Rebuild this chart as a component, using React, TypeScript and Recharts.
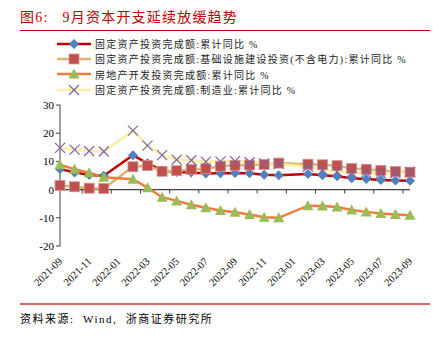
import React from 'react';
import { LineChart, Line, XAxis, YAxis, ReferenceLine } from 'recharts';

const months = [
  '2021-09', '2021-10', '2021-11', '2021-12',
  '2022-01', '2022-02', '2022-03', '2022-04', '2022-05', '2022-06', '2022-07', '2022-08', '2022-09', '2022-10', '2022-11', '2022-12',
  '2023-01', '2023-02', '2023-03', '2023-04', '2023-05', '2023-06', '2023-07', '2023-08', '2023-09',
];

// 1-2月合并公布，1月为空
const fixedAsset = [7.3, 6.1, 5.2, 4.9, null, 12.2, 9.3, 6.8, 6.2, 6.1, 5.7, 5.8, 5.9, 5.8, 5.3, 5.1, null, 5.5, 5.1, 4.7, 4.0, 3.8, 3.4, 3.2, 3.1];
const infra = [1.5, 1.0, 0.5, 0.4, null, 8.1, 8.5, 6.5, 6.7, 7.1, 7.4, 8.3, 8.6, 8.7, 8.9, 9.4, null, 9.0, 8.8, 8.5, 7.5, 7.2, 6.8, 6.4, 6.2];
const realEstate = [8.8, 7.2, 6.0, 4.4, null, 3.7, 0.7, -2.7, -4.0, -5.4, -6.4, -7.4, -8.0, -8.8, -9.8, -10.0, null, -5.7, -5.8, -6.2, -7.2, -7.9, -8.5, -8.8, -9.1];
const manufacturing = [14.8, 14.2, 13.7, 13.5, null, 20.9, 15.6, 12.2, 10.6, 10.4, 9.9, 10.0, 10.1, 9.7, 9.3, 9.1, null, 8.1, 7.0, 6.4, 6.0, 6.0, 5.7, 5.9, 6.2];

const yTicks = [-20, -10, 0, 10, 20, 30];

const data = months.map((m, i) => ({
  month: m,
  fixedAsset: fixedAsset[i],
  infra: infra[i],
  realEstate: realEstate[i],
  manufacturing: manufacturing[i],
}));

const W = 443;
const H = 339;
const margin = { top: 105, right: 33, bottom: 43, left: 20 };
const yAxisWidth = 40;
const xAxisHeight = 50;
const plotLeft = margin.left + yAxisWidth;
const plotWidth = W - plotLeft - margin.right;
const plotHeight = H - margin.top - margin.bottom - xAxisHeight;
const yMin = -20;
const yMax = 30;
const zeroY = margin.top + (plotHeight * yMax) / (yMax - yMin);
const band = plotWidth / months.length;

const serif = '"Liberation Serif", "Times New Roman", serif';
const cjk = '"Liberation Serif", "Noto Sans CJK SC", sans-serif';

type Shape = (cx: number, cy: number, k?: string) => React.ReactElement;

const diamond: Shape = (cx, cy, k) => (
  <polygon key={k} points={`${cx},${cy - 5} ${cx + 5},${cy} ${cx},${cy + 5} ${cx - 5},${cy}`} fill="#4f81bd" />
);
const square: Shape = (cx, cy, k) => (
  <rect key={k} x={cx - 5} y={cy - 5} width={10} height={10} fill="#c0504d" stroke="#d99694" strokeWidth={0.8} />
);
const triangle: Shape = (cx, cy, k) => (
  <polygon key={k} points={`${cx},${cy - 5.5} ${cx + 5.5},${cy + 4.5} ${cx - 5.5},${cy + 4.5}`} fill="#9bbb59" />
);
const cross: Shape = (cx, cy, k) => (
  <g key={k} stroke="#8064a2" strokeWidth={1.2}>
    <line x1={cx - 5} y1={cy - 5} x2={cx + 5} y2={cy + 5} />
    <line x1={cx - 5} y1={cy + 5} x2={cx + 5} y2={cy - 5} />
  </g>
);

const dotFor = (shape: Shape, name: string) => (props: any) => {
  const k = `${name}-${props.index}`;
  if (props.cx == null || props.cy == null || props.value == null) return <g key={k} />;
  return shape(props.cx, props.cy, k);
};

const series = [
  { key: 'fixedAsset', label: '固定资产投资完成额:累计同比 %', color: '#c00000', shape: diamond },
  { key: 'infra', label: '固定资产投资完成额:基础设施建设投资(不含电力):累计同比 %', color: '#d9b66b', shape: square },
  { key: 'realEstate', label: '房地产开发投资完成额:累计同比 %', color: '#f07c3a', shape: triangle },
  { key: 'manufacturing', label: '固定资产投资完成额:制造业:累计同比 %', color: '#f9f0a4', shape: cross },
];

const XTick = (props: any) => {
  const { x, y, payload } = props;
  const bx = x - band / 2;
  return (
    <g>
      {payload.index > 0 && <line x1={bx} y1={zeroY} x2={bx} y2={zeroY + 4} stroke="#404040" />}
      <text
        x={x + 3}
        y={y + 8}
        transform={`rotate(-45, ${x + 3}, ${y + 8})`}
        textAnchor="end"
        fontSize={10.5}
        fontFamily={serif}
        fill="#000"
      >
        {payload.value}
      </text>
    </g>
  );
};

const App: React.FC = () => {
  return (
    <div style={{ position: 'absolute', left: 0, top: 0, width: W, height: H, background: '#fff', overflow: 'hidden' }}>
      <div style={{ position: 'absolute', left: 20, top: 6, fontFamily: cjk, fontSize: 14, color: '#c00000', whiteSpace: 'nowrap', letterSpacing: 1.2 }}>
        图6:&nbsp;&nbsp; 9月资本开支延续放缓趋势
      </div>
      <div style={{ position: 'absolute', left: 20, top: 30, width: 410, height: 1, background: '#c00000' }} />

      <div style={{ position: 'absolute', left: 57, top: 36 }}>
        {series.map((s) => (
          <div key={s.key} style={{ display: 'flex', alignItems: 'center', height: 15.3 }}>
            <svg width={34} height={12} style={{ display: 'block' }}>
              <line x1={0} y1={6} x2={34} y2={6} stroke={s.color} strokeWidth={2.5} />
              {s.shape(17, 6)}
            </svg>
            <span style={{ marginLeft: 4, fontFamily: cjk, fontSize: 10, color: '#222', whiteSpace: 'nowrap', letterSpacing: 1.25 }}>
              {s.label}
            </span>
          </div>
        ))}
      </div>

      <div style={{ position: 'absolute', left: 0, top: 0 }}>
        <LineChart width={W} height={H} data={data} margin={margin}>
          <XAxis
            dataKey="month"
            interval={1}
            axisLine={false}
            tickLine={false}
            height={xAxisHeight}
            tick={<XTick />}
          />
          <YAxis
            domain={[yMin, yMax]}
            ticks={yTicks}
            width={yAxisWidth}
            tickSize={4}
            tick={{ fontSize: 11, fontFamily: serif, fill: '#000' }}
            axisLine={{ stroke: '#404040' }}
            tickLine={{ stroke: '#404040' }}
          />
          <ReferenceLine y={0} stroke="#404040" strokeWidth={1.2} />
          {series.map((s) => (
            <Line
              key={s.key}
              dataKey={s.key}
              stroke={s.color}
              strokeWidth={2.5}
              type="linear"
              connectNulls
              dot={dotFor(s.shape, s.key)}
              activeDot={false}
              isAnimationActive={false}
            />
          ))}
        </LineChart>
      </div>

      <div style={{ position: 'absolute', left: 20, top: 303, width: 410, height: 1.5, background: '#e06666' }} />
      <div style={{ position: 'absolute', left: 20, top: 310, fontFamily: cjk, fontSize: 11, color: '#000', whiteSpace: 'nowrap', letterSpacing: 1.5 }}>
        资料来源:&nbsp; Wind,&nbsp; 浙商证券研究所
      </div>
    </div>
  );
};

export default App;
